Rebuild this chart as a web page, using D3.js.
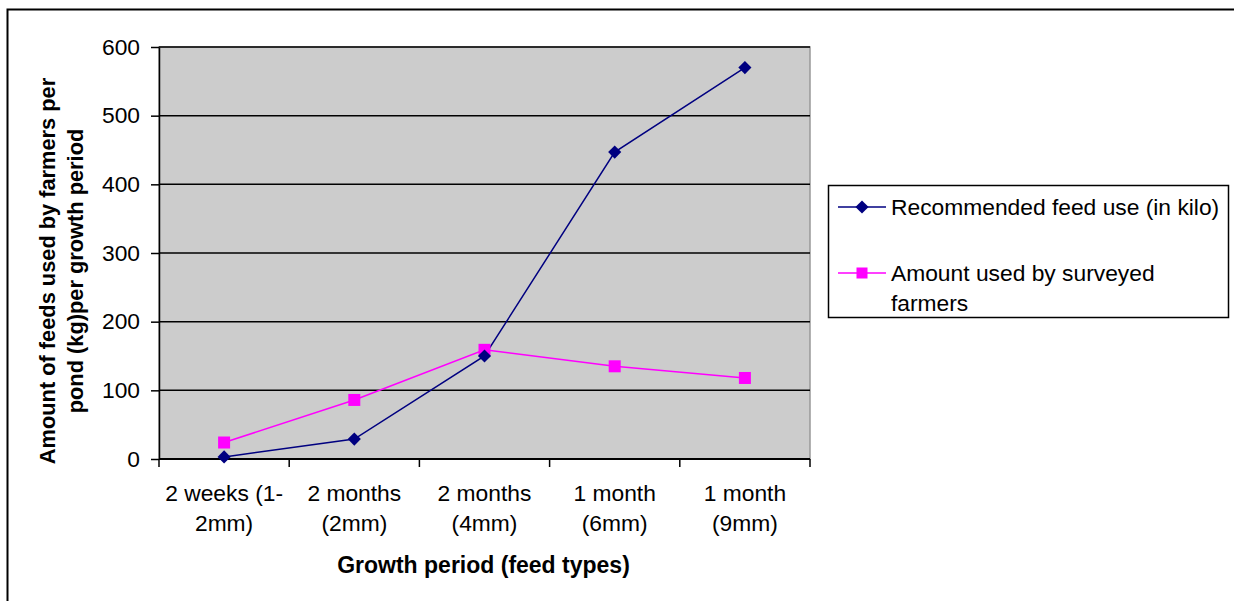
<!DOCTYPE html>
<html>
<head>
<meta charset="utf-8">
<script src="https://cdn.jsdelivr.net/npm/d3@7"></script>
<style>
  html, body { margin: 0; padding: 0; background: #fff; }
  svg { display: block; }
  text { font-family: "Liberation Sans", Arial, sans-serif; fill: #000; }
</style>
</head>
<body>
<svg id="chart" width="1234" height="601"></svg>
<script>
// Growth periods (feed types), one label line per array entry
const categories = [
  ["2 weeks (1-", "2mm)"],
  ["2 months", "(2mm)"],
  ["2 months", "(4mm)"],
  ["1 month", "(6mm)"],
  ["1 month", "(9mm)"]
];
const recommended = [3, 29, 150, 447, 570];
const surveyed = [24, 86, 159, 135, 118];
const yTicks = [0, 100, 200, 300, 400, 500, 600];
const seriesNames = ["Recommended feed use (in kilo)", ["Amount used by surveyed", "farmers"]];

const svg = d3.select("#chart");
const plot = { left: 159, right: 810, top: 47, bottom: 459 };
const labelSize = "22.8px";

// Outer chart frame
svg.append("rect")
  .attr("x", 7.5).attr("y", 9.5)
  .attr("width", 1240).attr("height", 620)
  .attr("fill", "none").attr("stroke", "#000").attr("stroke-width", 2);

const x = d3.scaleBand()
  .domain(d3.range(categories.length))
  .range([plot.left, plot.right]);
const y = d3.scaleLinear().domain([0, 600]).range([plot.bottom, plot.top]);

// Plot area background
svg.append("rect")
  .attr("x", plot.left).attr("y", plot.top)
  .attr("width", plot.right - plot.left).attr("height", plot.bottom - plot.top)
  .attr("fill", "#cccccc")
  .attr("stroke", "#999").attr("stroke-width", 1.5);

// Horizontal gridlines
svg.append("g").selectAll("line")
  .data(yTicks.filter(d => d > 0))
  .join("line")
  .attr("x1", plot.left).attr("x2", plot.right)
  .attr("y1", d => y(d)).attr("y2", d => y(d))
  .attr("stroke", "#000").attr("stroke-width", 1.5);

// Y axis
const yAxis = svg.append("g")
  .attr("transform", `translate(${plot.left},0)`)
  .call(d3.axisLeft(y).tickValues(yTicks).tickSize(8).tickPadding(11).tickSizeOuter(0));
yAxis.select(".domain").attr("stroke", "#000").attr("stroke-width", 1.5);
yAxis.selectAll(".tick line").attr("stroke", "#000").attr("stroke-width", 1.5);
yAxis.selectAll(".tick text")
  .style("font-size", labelSize).style("font-family", "Liberation Sans, Arial, sans-serif");

// X axis: ticks on band boundaries
const boundaries = d3.range(categories.length + 1).map(i =>
  i < categories.length ? x(i) : x(categories.length - 1) + x.bandwidth());
const xAxisG = svg.append("g");
xAxisG.append("line")
  .attr("x1", plot.left).attr("x2", plot.right)
  .attr("y1", plot.bottom).attr("y2", plot.bottom)
  .attr("stroke", "#000").attr("stroke-width", 2);
xAxisG.selectAll(".xt")
  .data(boundaries)
  .join("line")
  .attr("class", "xt")
  .attr("x1", d => d).attr("x2", d => d)
  .attr("y1", plot.bottom).attr("y2", plot.bottom + 8)
  .attr("stroke", "#000").attr("stroke-width", 1.5);

const catLabels = svg.append("g").selectAll("text")
  .data(categories)
  .join("text")
  .attr("text-anchor", "middle")
  .style("font-size", labelSize);
catLabels.each(function(lines, i) {
  d3.select(this).selectAll("tspan")
    .data(lines)
    .join("tspan")
    .attr("x", x(i) + x.bandwidth() / 2)
    .attr("y", (d, j) => 501 + j * 30)
    .text(d => d);
});

// Axis titles
svg.append("text")
  .attr("x", (plot.left + plot.right) / 2 - 1).attr("y", 573)
  .attr("text-anchor", "middle")
  .style("font-size", "23px").style("font-weight", "bold")
  .text("Growth period (feed types)");

const yTitle = svg.append("text")
  .attr("transform", "translate(55,271) rotate(-90)")
  .attr("text-anchor", "middle")
  .style("font-size", "21.8px").style("font-weight", "bold");
yTitle.append("tspan").attr("x", 0).attr("y", 0).text("Amount of feeds used by farmers per");
yTitle.append("tspan").attr("x", 0).attr("y", 28).text("pond (kg)per growth period");

// Series lines and markers
const cx = i => x(i) + x.bandwidth() / 2;
const line = d3.line().x((d, i) => cx(i)).y(d => y(d));

const blue = "#000080", pink = "#ff00ff";

svg.append("path").datum(surveyed)
  .attr("d", line).attr("fill", "none").attr("stroke", pink).attr("stroke-width", 1.5);
svg.append("path").datum(recommended)
  .attr("d", line).attr("fill", "none").attr("stroke", blue).attr("stroke-width", 1.5);

svg.append("g").selectAll("rect")
  .data(surveyed)
  .join("rect")
  .attr("x", (d, i) => cx(i) - 6).attr("y", d => y(d) - 6)
  .attr("width", 12).attr("height", 12)
  .attr("fill", pink);

const diamond = d3.symbol().type(d3.symbolDiamond2).size(110);
svg.append("g").selectAll("path")
  .data(recommended)
  .join("path")
  .attr("d", diamond)
  .attr("transform", (d, i) => `translate(${cx(i)},${y(d)})`)
  .attr("fill", blue);

// Legend
const legend = svg.append("g");
legend.append("rect")
  .attr("x", 828.5).attr("y", 185.5).attr("width", 400).attr("height", 132)
  .attr("fill", "#fff").attr("stroke", "#000").attr("stroke-width", 1.5);

const legendRows = [
  { color: blue, y: 207, shape: "diamond", lines: [seriesNames[0]] },
  { color: pink, y: 273, shape: "square", lines: seriesNames[1] }
];
legendRows.forEach(r => {
  legend.append("line")
    .attr("x1", 838).attr("x2", 886).attr("y1", r.y).attr("y2", r.y)
    .attr("stroke", r.color).attr("stroke-width", 1.5);
  if (r.shape === "diamond") {
    legend.append("path").attr("d", diamond)
      .attr("transform", `translate(862,${r.y})`).attr("fill", r.color);
  } else {
    legend.append("rect")
      .attr("x", 856.5).attr("y", r.y - 5.5).attr("width", 11).attr("height", 11)
      .attr("fill", r.color);
  }
  const t = legend.append("text").style("font-size", labelSize);
  r.lines.forEach((s, j) => {
    t.append("tspan").attr("x", 891).attr("y", r.y + 8 + j * 30).text(s);
  });
});
</script>
</body>
</html>
